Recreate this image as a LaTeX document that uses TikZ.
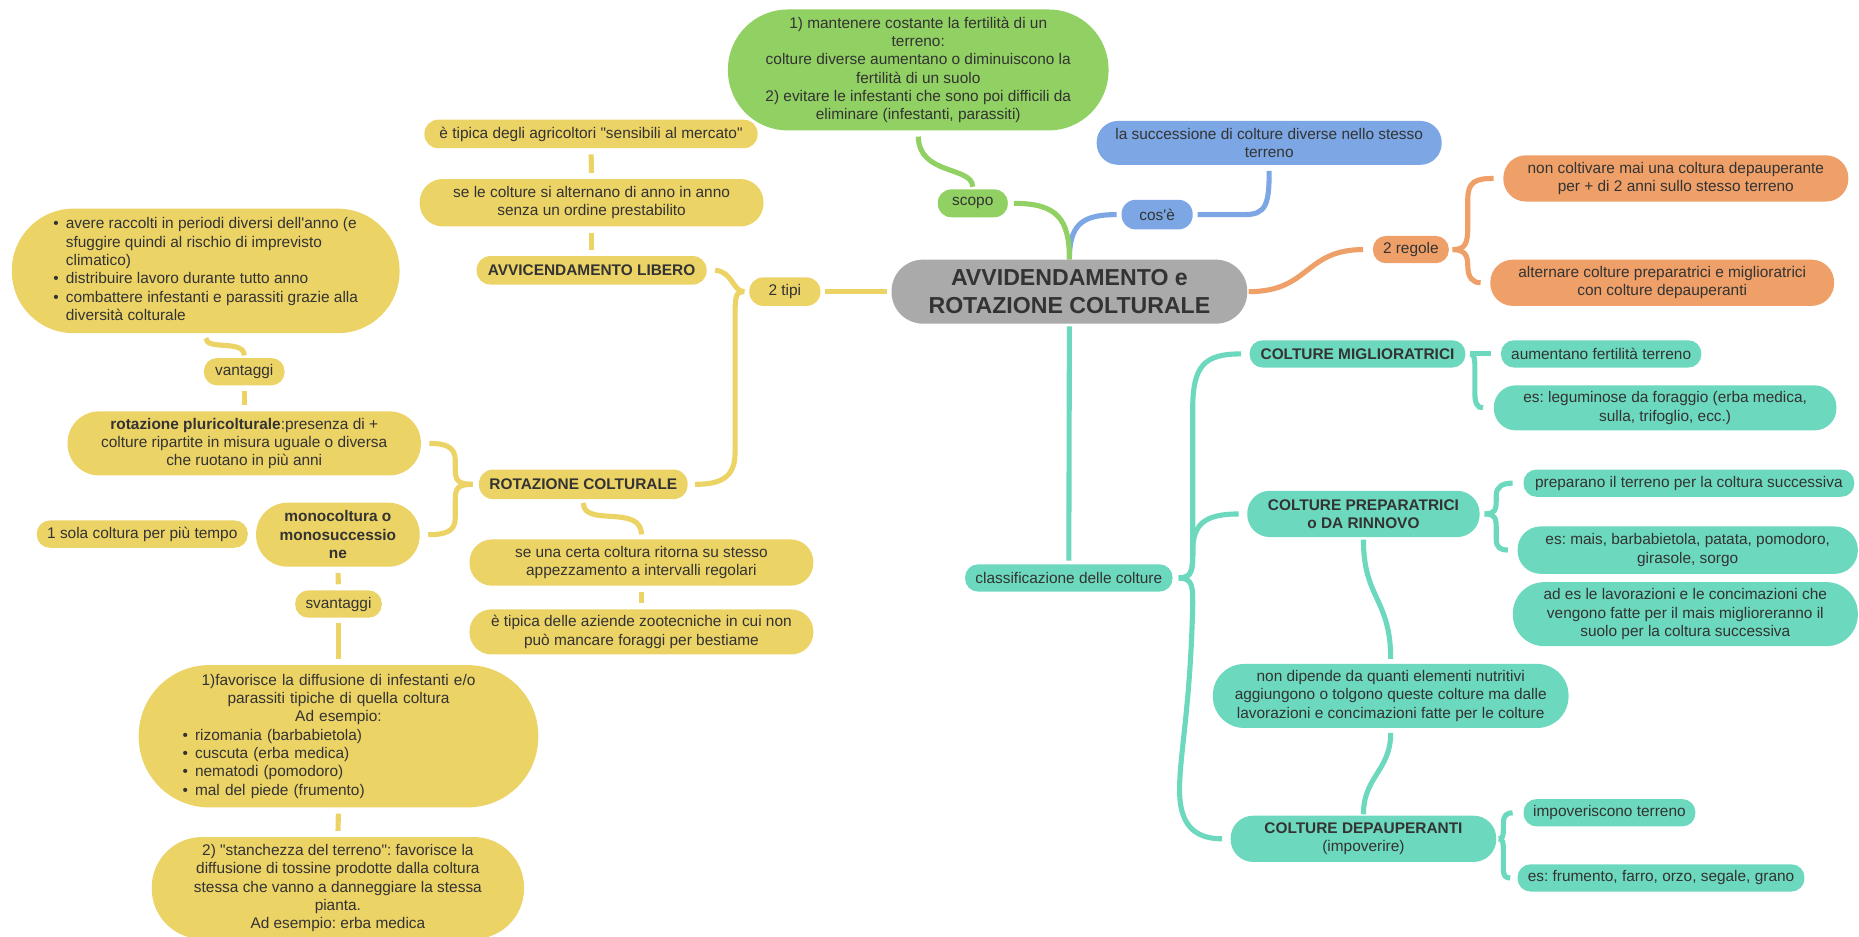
\documentclass[tikz,border=0pt]{standalone}
\usepackage{fontspec}
\setmainfont{Liberation Sans}
\frenchspacing
\definecolor{yel}{RGB}{236,211,102}
\definecolor{grn}{RGB}{145,208,98}
\definecolor{blu}{RGB}{124,167,228}
\definecolor{org}{RGB}{238,160,104}
\definecolor{tea}{RGB}{108,216,190}
\definecolor{gry}{RGB}{170,170,170}
\definecolor{txt}{RGB}{51,51,51}
\newcommand{\aq}{\textquotesingle}
\newcommand{\qq}{\textquotedbl}
\pgfdeclarelayer{bg}
\pgfsetlayers{bg,main}
\tikzset{
  base/.style={inner sep=0pt, align=center, text=txt, font=\fontsize{13}{15.5}\selectfont},
  bold/.style={font=\fontsize{13}{15.5}\selectfont\bfseries},
  pill/.style 2 args={minimum width=#1pt, minimum height=#2pt, rounded corners=#2/2*1pt-0.5pt},
  ybox/.style={base, fill=yel},
  gbox/.style={base, fill=grn},
  bbox/.style={base, fill=blu},
  obox/.style={base, fill=org},
  tbox/.style={base, fill=tea},
  conn/.style={line width=4.3pt, line cap=butt},
  yc/.style={conn, draw=yel},
  gc/.style={conn, draw=grn},
  bc/.style={conn, draw=blu},
  oc/.style={conn, draw=org},
  tc/.style={conn, draw=tea},
  short/.style={shorten <=5pt, shorten >=5pt},
}
\begin{document}
\begin{tikzpicture}[x=1pt, y=-1pt]
\useasboundingbox (0,0) rectangle (1568,790);
\begin{pgfonlayer}{bg}
\fill[white] (0,0) rectangle (1568,790);
\end{pgfonlayer}

% ---------- central node
\node[base, fill=gry, pill={300}{54}, font=\fontsize{19.5}{23}\selectfont\bfseries] (main) at (902,246) {AVVIDENDAMENTO e\\ROTAZIONE COLTURALE};

% ---------- green
\node[gbox, pill={321}{102}] (scopobox) at (774.5,59) {1) mantenere costante la fertilità di un\\terreno:\\colture diverse aumentano o diminuiscono la\\fertilità di un suolo\\2) evitare le infestanti che sono poi difficili da\\eliminare (infestanti, parassiti)};
\node[gbox, pill={59}{23.5}] (scopo) at (820.5,171.5) {scopo};

% ---------- blue
\node[bbox, pill={60}{25}] (cose) at (976,181) {cos\aq è};
\node[bbox, pill={291}{37}] (cosebox) at (1070.5,120.5) {la successione di colture diverse nello stesso\\terreno};

% ---------- orange
\node[obox, pill={64}{23}] (regole) at (1190,210.5) {2 regole};
\node[obox, pill={291}{39}] (reg1) at (1413.5,150.5) {non coltivare mai una coltura depauperante\\per + di 2 anni sullo stesso terreno};
\node[obox, pill={290}{39}] (reg2) at (1402,238.5) {alternare colture preparatrici e miglioratrici\\con colture depauperanti};

% ---------- teal
\node[tbox, pill={175}{23}] (classif) at (901.5,487.5) {classificazione delle colture};
\node[tbox, bold, pill={182}{23}] (migl) at (1145,298.5) {COLTURE MIGLIORATRICI};
\node[tbox, pill={169}{23}] (aument) at (1350.5,298.5) {aumentano fertilità terreno};
\node[tbox, pill={289}{38}] (legum) at (1404.5,344) {es: leguminose da foraggio (erba medica,\\sulla, trifoglio, ecc.)};
\node[tbox, bold, pill={196}{39}] (prep) at (1150,433.5) {COLTURE PREPARATRICI\\o DA RINNOVO};
\node[tbox, pill={279}{23}] (prepar) at (1424.5,407.5) {preparano il terreno per la coltura successiva};
\node[tbox, pill={287}{40}] (mais) at (1423.5,464) {es: mais, barbabietola, patata, pomodoro,\\girasole, sorgo};
\node[tbox, pill={291}{54}] (lavor) at (1421.5,518) {ad es le lavorazioni e le concimazioni che\\vengono fatte per il mais miglioreranno il\\suolo per la coltura successiva};
\node[tbox, pill={300}{54}] (nondip) at (1173,587) {non dipende da quanti elementi nutritivi\\aggiungono o tolgono queste colture ma dalle\\lavorazioni e concimazioni fatte per le colture};
\node[tbox, pill={224}{39}] (depau) at (1150,707.5) {\textbf{COLTURE DEPAUPERANTI}\\(impoverire)};
\node[tbox, pill={145}{23}] (impov) at (1357.5,685.5) {impoveriscono terreno};
\node[tbox, pill={242}{23}] (frum) at (1401,740.5) {es: frumento, farro, orzo, segale, grano};

% ---------- yellow
\node[ybox, pill={60}{24}] (tipi) at (662,246) {2 tipi};
\node[ybox, bold, pill={194}{24}] (libero) at (499,228) {AVVICENDAMENTO LIBERO};
\node[ybox, pill={290}{40}] (alterna) at (499,171) {se le colture si alternano di anno in anno\\senza un ordine prestabilito};
\node[ybox, pill={281}{24}] (mercato) at (498.5,113) {è tipica degli agricoltori \qq sensibili al mercato\qq};
\node[ybox, bold, pill={176}{25}] (rotaz) at (492,408.5) {ROTAZIONE COLTURALE};
\node[ybox, pill={290}{39}] (ritorna) at (541,474.5) {se una certa coltura ritorna su stesso\\appezzamento a intervalli regolari};
\node[ybox, pill={290}{38}] (aziende) at (541,533) {è tipica delle aziende zootecniche in cui non\\può mancare foraggi per bestiame};
\node[ybox, pill={298}{54}] (pluri) at (206,374) {\textbf{rotazione pluricolturale}:presenza di +\\colture ripartite in misura uguale o diversa\\che ruotano in più anni};
\node[ybox, pill={68}{23}] (vant) at (206,313.5) {vantaggi};
\node[ybox, pill={327}{105}] (vantbox) at (173.5,228.5) {\begin{tabular}{@{}l@{\hspace{6pt}}l@{}}
\textbullet & avere raccolti in periodi diversi dell\aq anno (e\\
 & sfuggire quindi al rischio di imprevisto\\
 & climatico)\\
\textbullet & distribuire lavoro durante tutto anno\\
\textbullet & combattere infestanti e parassiti grazie alla\\
 & diversità colturale
\end{tabular}};
\node[ybox, bold, pill={138}{54}] (mono) at (285,451) {monocoltura o\\monosuccessio\\ne};
\node[ybox, pill={178}{23}] (sola) at (120,450.5) {1 sola coltura per più tempo};
\node[ybox, pill={73}{23}] (svant) at (285.5,509.5) {svantaggi};
\node[ybox, pill={337}{120}, text width=300pt] (favor) at (285.5,621) {1)favorisce la diffusione di infestanti e/o\\parassiti tipiche di quella coltura\\Ad esempio:\par
\leftskip=18.5pt\rightskip=0pt plus 1fil\parfillskip=0pt plus 1fil\relax
\textbullet\hspace{6pt}rizomania (barbabietola)\\
\textbullet\hspace{6pt}cuscuta (erba medica)\\
\textbullet\hspace{6pt}nematodi (pomodoro)\\
\textbullet\hspace{6pt}mal del piede (frumento)\par};
\node[ybox, pill={314}{86}] (stanch) at (285,749) {2) \qq stanchezza del terreno\qq: favorisce la\\diffusione di tossine prodotte dalla coltura\\stessa che vanno a danneggiare la stessa\\pianta.\\Ad esempio: erba medica};

% ---------- connectors
\begin{pgfonlayer}{bg}
% blue
\draw[bc, shorten >=4pt] (main.north) .. controls (902,190) and (912,181) .. (cose.west);
\draw[bc, shorten <=4pt, shorten >=5pt] (cose.east) -- (1050,181) .. controls (1068,181) and (1070.5,172) .. (cosebox.south);
% green
\draw[gc, shorten >=5pt] (main.north) .. controls (902,185) and (892,171.5) .. (scopo.east);
\draw[gc, shorten <=2pt, shorten >=5pt] (scopo.north) .. controls (820,140) and (775,148) .. (scopobox.south);
% orange
\draw[oc, shorten <=1pt, shorten >=8pt] (main.east) .. controls (1105,246) and (1100,210.5) .. (regole.west);
\draw[oc] ([xshift=3pt]regole.east) .. controls (1236,210.5) and (1238,205) .. (1238,192) -- (1238,168) .. controls (1238,153) and (1245,150.5) .. ([xshift=-8pt]reg1.west);
\draw[oc] ([xshift=3pt]regole.east) .. controls (1236,210.5) and (1238,216) .. (1238,224) .. controls (1238,234) and (1242,238.5) .. ([xshift=-8pt]reg2.west);
% teal
\draw[tc, shorten <=2pt, shorten >=3pt] (main.south) -- (classif.north);
\draw[tc] ([xshift=5pt]classif.east) .. controls (1006,487.5) and (1006,480) .. (1006,465) -- (1006,345) .. controls (1006,308) and (1016,298.5) .. ([xshift=-7pt]migl.west);
\draw[tc] ([xshift=5pt]classif.east) .. controls (1006,487.5) and (1006,480) .. (1006,465) .. controls (1006,442) and (1016,433.5) .. ([xshift=-7pt]prep.west);
\draw[tc] ([xshift=5pt]classif.east) .. controls (1006,487.5) and (1006,495) .. (1006,510) .. controls (1004,600) and (994,640) .. (995,670) .. controls (996,700) and (1012,707.5) .. ([xshift=-7pt]depau.west);
\draw[tc] ([xshift=4pt]migl.east) -- ([xshift=-8pt]aument.west);
\draw[tc] ([xshift=4pt]migl.east) .. controls (1244,298.5) and (1244,304) .. (1244,312) -- (1244,332) .. controls (1244,340) and (1246,344) .. ([xshift=-9pt]legum.west);
\draw[tc] ([xshift=4pt]prep.east) .. controls (1261,433.5) and (1262,430) .. (1262,422) -- (1262,418) .. controls (1262,410) and (1268,407.5) .. ([xshift=-9pt]prepar.west);
\draw[tc] ([xshift=4pt]prep.east) .. controls (1261,433.5) and (1262,437) .. (1262,445) -- (1262,455) .. controls (1262,462) and (1266,464) .. ([xshift=-8pt]mais.west);
\draw[tc, shorten <=2pt, shorten >=4pt] (prep.south) .. controls (1150,505) and (1173,505) .. (nondip.north);
\draw[tc, shorten <=1pt, shorten >=4pt] (depau.north) .. controls (1150,655) and (1173,650) .. (nondip.south);
\draw[tc] ([xshift=2pt]depau.east) .. controls (1268,707.5) and (1268,704) .. (1268,698) -- (1268,694) .. controls (1268,688) and (1271,685.5) .. ([xshift=-9pt]impov.west);
\draw[tc] ([xshift=2pt]depau.east) .. controls (1268,707.5) and (1268,711) .. (1268,718) -- (1268,733) .. controls (1268,739) and (1270,740.5) .. ([xshift=-6pt]frum.west);
% yellow
\draw[yc, shorten <=4pt, shorten >=4pt] (main.west) -- (tipi.east);
\draw[yc] ([xshift=-4pt]tipi.west) .. controls (618,246) and (618,229) .. ([xshift=7pt]libero.east);
\draw[yc] ([xshift=-4pt]tipi.west) .. controls (620,246) and (620,250) .. (620,270) -- (620,382) .. controls (620,404) and (606,408.5) .. ([xshift=6pt]rotaz.east);
\draw[yc, short] (libero.north) -- (alterna.south);
\draw[yc, short] (alterna.north) -- (mercato.south);
\draw[yc, shorten <=3pt, shorten >=4pt] (rotaz.south) .. controls (492,445) and (541,425) .. (ritorna.north);
\draw[yc, short] (ritorna.south) -- (aziende.north);
\draw[yc] ([xshift=-5pt]rotaz.west) .. controls (386,408.5) and (384,405) .. (384,396) -- (384,388) .. controls (384,376) and (374,374) .. ([xshift=7pt]pluri.east);
\draw[yc] ([xshift=-5pt]rotaz.west) .. controls (386,408.5) and (384,412) .. (384,421) -- (384,437) .. controls (384,449) and (374,451) .. ([xshift=7pt]mono.east);
\draw[yc, short] (pluri.north) -- (vant.south);
\draw[yc, shorten <=2pt, shorten >=4pt] (vant.north) .. controls (206,286) and (174,296) .. (vantbox.south);
\draw[yc, short] (mono.south) -- (svant.north);
\draw[yc, shorten <=4pt, shorten >=5pt] (svant.south) -- (favor.north);
\draw[yc, short] (favor.south) -- (stanch.north);
\end{pgfonlayer}
\end{tikzpicture}
\end{document}
